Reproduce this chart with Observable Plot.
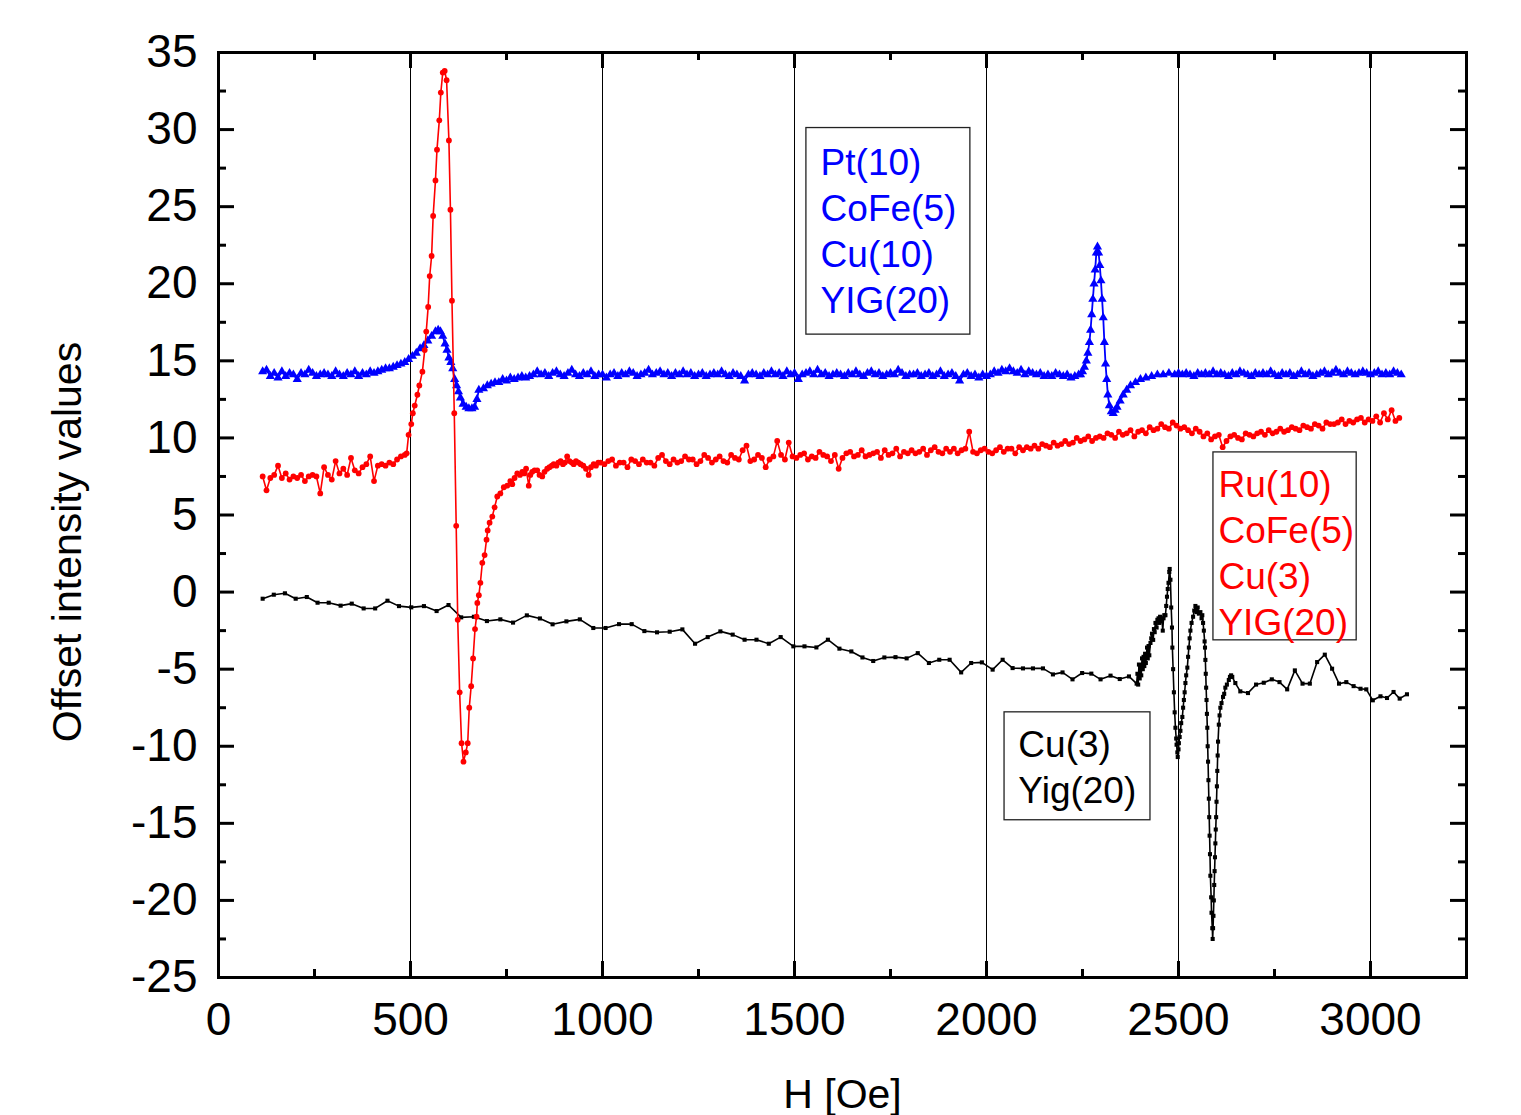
<!DOCTYPE html>
<html>
<head>
<meta charset="utf-8">
<script src="https://cdn.jsdelivr.net/npm/d3@7"></script>
<script src="https://cdn.jsdelivr.net/npm/@observablehq/plot@0.6"></script>
<style>
  html, body { margin: 0; padding: 0; background: white; }
  #chart { width: 1521px; height: 1115px; }
</style>
</head>
<body>
<div id="chart"></div>
<script>
// ---------- DATA ----------
// Blue: Pt(10)/CoFe(5)/Cu(10)/YIG(20), sweep values on a 10 Oe grid
const blueSweep1Start = 115; // H = 115 ... 405
const blueSweep1 = [14.3,14.4,14.0,14.2,13.9,14.3,14.0,14.2,14.1,13.8,14.2,14.1,14.4,14.2,14.0,14.1,14.2,14.1,14.0,14.3,14.1,14.0,14.2,14.1,14.3,14.0,14.2,14.1,14.3,14.2];
const bluePeak1 = [[415,14.3],[425,14.4],[435,14.5],[445,14.5],[455,14.6],[465,14.7],[475,14.8],[485,14.9],[495,15.1],[505,15.3],[515,15.5],[525,15.8],[535,16.0],[545,16.3],[555,16.6],[565,16.9],[572,17.0],[578,16.9],[584,16.6],[590,16.1],[595,15.7],[600,15.2],[605,14.9],[610,14.5],[615,13.8],[620,13.4],[625,13.0],[630,12.6],[637,12.2],[645,12.0],[652,11.9],[660,11.9],[667,12.0],[673,12.5],[678,13.1],[690,13.2],[700,13.4],[710,13.5],[720,13.6],[730,13.6],[740,13.8],[750,13.7],[760,13.9],[770,13.8],[780,13.9],[790,14.0],[800,13.9]];
const blueSweep2Start = 810; // H = 810 ... 2240
const blueSweep2 = [
  14.0,14.1,14.3,14.1,14.2,14.0,14.2,14.3,14.1,14.0,14.2,14.4,14.1,14.0,14.2,14.1,14.3,14.0,14.1,14.1,
  13.9,14.1,14.2,14.0,14.2,14.1,14.3,14.2,14.0,14.1,14.2,14.4,14.1,14.2,14.3,14.1,14.2,14.0,14.2,14.1,
  14.3,14.1,14.2,14.0,14.1,14.2,14.0,14.1,14.2,14.1,14.3,14.1,14.0,14.2,14.1,14.0,13.7,14.1,14.2,14.1,
  14.0,14.2,14.1,14.3,14.1,14.2,14.0,14.3,14.1,14.2,13.8,14.1,14.2,14.3,14.1,14.4,14.1,14.2,14.0,14.1,
  14.2,14.1,14.0,14.2,14.1,14.3,14.1,14.0,14.2,14.3,14.1,14.2,14.0,14.1,14.2,14.1,14.4,14.2,14.0,14.1,
  14.1,14.2,14.0,14.1,14.2,14.0,14.1,14.3,14.0,14.1,14.2,14.0,13.7,14.1,14.2,14.0,14.1,13.9,14.1,14.0,
  14.1,14.3,14.2,14.4,14.3,14.5,14.3,14.2,14.4,14.1,14.3,14.2,14.1,14.2,14.0,14.1,14.0,14.2,14.1,14.0,
  14.1,13.9,14.0,14.1];
const bluePeak2 = [[2245,14.1],[2250,14.3],[2255,14.6],[2260,15.0],[2264,15.5],[2268,16.2],[2271,17.0],[2274,18.0],[2277,19.0],[2280,20.0],[2283,20.9],[2286,22.0],[2289,22.4],[2292,22.0],[2295,21.2],[2298,20.2],[2301,19.0],[2304,17.8],[2307,16.2],[2310,14.8],[2313,13.8],[2316,12.8],[2320,12.1],[2325,11.7],[2330,11.6],[2335,11.8],[2340,12.0],[2348,12.4],[2356,12.8],[2365,13.1],[2375,13.4],[2388,13.6],[2401,13.8],[2415,13.9],[2430,14.0],[2445,14.1],[2460,14.1],[2475,14.2],[2490,14.1],[2500,14.2]];
const blueSweep3Start = 2510; // H = 2510 ... 3080
const blueSweep3 = [
  14.1,14.2,14.1,14.0,14.2,14.1,14.2,14.1,14.3,14.1,
  14.2,14.1,14.0,14.2,14.1,14.3,14.2,14.1,14.0,14.2,
  14.1,14.2,14.1,14.3,14.1,14.0,14.2,14.1,14.2,14.0,
  14.1,14.3,14.1,14.2,14.0,14.1,14.2,14.3,14.1,14.2,
  14.4,14.2,14.1,14.3,14.2,14.1,14.2,14.3,14.2,14.1,
  14.2,14.3,14.1,14.2,14.1,14.3,14.2,14.1];

// Red: Ru(10)/CoFe(5)/Cu(3)/YIG(20)
const redSweep1Start = 115; // H = 115 ... 485
const redSweep1 = [7.5,6.6,7.4,7.6,8.2,7.4,7.7,7.3,7.5,7.4,7.6,7.2,7.5,7.6,7.5,6.4,8.1,7.6,7.3,8.5,7.7,8.0,7.6,8.7,7.9,7.7,8.1,8.3,8.8,7.2,8.2,8.3,8.2,8.4,8.3,8.6,8.8,8.9];
const redPeak = [[490,9.0],[495,10.2],[502,10.9],[506,11.6],[511,12.1],[518,12.8],[523,13.4],[531,14.3],[537,15.7],[541,16.9],[546,18.5],[550,20.5],[555,21.8],[559,24.4],[565,26.7],[569,28.7],[575,30.6],[579,32.4],[584,33.7],[589,33.8],[594,33.2],[600,29.3],[604,24.8],[608,18.9],[614,11.6],[619,4.3],[623,-1.8],[628,-6.5],[633,-9.8],[638,-11.0],[644,-10.4],[649,-9.8],[653,-7.5],[658,-6.1],[663,-4.3],[668,-2.4],[672,-1.6],[674,-0.7],[678,-0.2],[682,0.6],[687,1.9],[693,2.4],[698,3.4],[701,4.0],[706,4.5],[713,4.9],[719,5.5],[726,6.2],[734,6.4],[743,6.8],[752,6.9],[760,7.2],[765,7.0],[771,7.4],[778,7.7],[785,7.6],[791,7.8],[796,7.7],[801,8.0],[808,6.9],[812,7.6],[817,7.8],[823,7.9],[830,7.9],[836,7.6],[843,7.5],[849,7.8],[856,8.0],[862,8.1],[868,8.2],[873,8.3],[880,8.2],[885,8.4],[891,8.5],[897,8.3],[902,8.4],[908,8.8],[914,8.5],[920,8.4],[925,8.3],[931,8.5],[937,8.4],[943,8.3],[950,8.2],[957,8.0],[964,7.6],[970,8.1],[977,8.3],[983,8.2],[989,8.4],[995,8.4]];
const redSweep2Start = 1005; // H = 1005 ... 3075
const redSweep2 = [
  8.3,8.5,8.6,8.2,8.4,8.4,8.1,8.6,8.5,8.3,
  8.6,8.4,8.4,8.2,8.7,8.9,8.5,8.3,8.6,8.4,
  8.5,8.8,8.6,8.6,8.3,8.5,8.9,8.7,8.4,8.6,
  8.8,8.5,8.4,8.9,8.7,8.6,9.2,9.5,8.5,8.6,
  8.9,8.7,8.1,8.6,8.8,9.8,8.9,8.6,9.7,8.8,
  8.7,8.9,9.0,8.6,8.8,8.7,9.1,8.9,8.8,8.5,
  8.9,8.0,8.7,9.0,9.1,8.8,8.9,9.2,8.8,8.9,
  9.0,9.1,8.7,9.2,8.9,9.0,9.3,8.8,9.1,9.0,
  9.2,9.0,9.1,9.3,8.9,9.2,9.4,9.1,9.0,9.3,
  9.1,9.3,9.0,9.2,9.3,10.4,9.1,9.0,9.2,9.3,
  9.1,9.0,9.2,9.4,9.1,9.3,9.3,9.0,9.4,9.2,
  9.4,9.3,9.5,9.3,9.6,9.5,9.4,9.7,9.5,9.6,
  9.8,9.6,9.7,10.0,9.8,9.9,10.1,9.8,10.0,10.1,
  10.0,10.3,10.2,10.0,10.4,10.2,10.3,10.5,10.1,10.4,
  10.5,10.3,10.7,10.5,10.6,10.9,10.7,10.6,11.0,10.8,
  10.6,10.7,10.5,10.3,10.6,10.4,10.1,10.3,9.9,10.1,
  10.2,9.4,9.8,10.1,10.2,10.0,9.9,10.3,10.2,10.1,
  10.3,10.4,10.2,10.5,10.3,10.4,10.6,10.4,10.5,10.7,
  10.6,10.5,10.8,10.7,10.6,10.9,10.8,10.6,11.0,10.9,
  10.9,11.0,11.2,10.9,11.1,11.0,11.2,11.3,11.0,11.2,
  11.1,11.4,11.0,11.6,11.2,11.8,11.1,11.3];

// Black: Cu(3)/Yig(20)
const blackBase = [[115,-0.43],[144,-0.17],[173,-0.08],[201,-0.43],[230,-0.32],[258,-0.69],[287,-0.69],[318,-0.88],[347,-0.75],[378,-1.06],[408,-1.06],[440,-0.56],[470,-0.91],[502,-0.99],[535,-0.91],[568,-1.23],[599,-0.84],[632,-1.64],[665,-1.6],[699,-1.88],[734,-1.77],[767,-1.98],[803,-1.51],[837,-1.71],[870,-2.09],[906,-1.9],[941,-1.77],[976,-2.33],[1008,-2.33],[1043,-2.08],[1076,-2.08],[1109,-2.53],[1142,-2.61],[1175,-2.57],[1208,-2.42],[1241,-3.35],[1274,-2.92],[1307,-2.55],[1339,-2.76],[1370,-3.09],[1401,-3.09],[1433,-3.35],[1464,-2.92],[1497,-3.52],[1526,-3.52],[1557,-3.59],[1587,-3.09],[1617,-3.67],[1648,-3.85],[1677,-4.24],[1705,-4.47],[1734,-4.24],[1763,-4.22],[1792,-4.3],[1821,-3.96],[1850,-4.6],[1877,-4.39],[1904,-4.39],[1934,-5.21],[1960,-4.6],[1988,-4.56],[2016,-5.03],[2042,-4.39],[2068,-4.93],[2095,-4.95],[2121,-4.95],[2147,-4.95],[2173,-5.34],[2198,-5.21],[2224,-5.66],[2249,-5.25],[2273,-5.29],[2297,-5.66],[2323,-5.42],[2347,-5.64],[2371,-5.47],[2391,-5.94]];
const blackResonance = [[2393,-5.3],[2395,-6.0],[2397,-4.7],[2399,-5.6],[2401,-4.9],[2403,-5.4],[2405,-4.3],[2407,-5.0],[2409,-4.2],[2411,-4.8],[2413,-4.0],[2415,-4.6],[2418,-3.6],[2420,-4.3],[2422,-3.5],[2424,-4.1],[2427,-3.3],[2429,-3.0],[2431,-2.7],[2434,-3.1],[2436,-2.4],[2438,-2.6],[2440,-2.0],[2443,-2.3],[2445,-1.8],[2448,-1.7],[2450,-2.0],[2452,-1.6],[2455,-1.9],[2457,-1.8],[2459,-2.5],[2461,-1.7],[2463,-1.5],[2466,-1.5],[2468,-0.9],[2470,-0.3],[2472,0.2],[2474,0.6],[2476,1.3],[2477,1.5],[2479,0.8],[2481,-1.0],[2483,-2.3],[2484,-3.6],[2486,-5.0],[2488,-6.5],[2490,-7.8],[2492,-8.8],[2494,-9.5],[2495,-9.9],[2497,-10.4],[2498,-10.7],[2500,-10.2],[2501,-9.8],[2503,-9.4],[2505,-9.0],[2507,-8.5],[2510,-8.1],[2512,-7.5],[2514,-7.0],[2516,-6.5],[2518,-5.9],[2520,-5.4],[2523,-4.9],[2525,-4.2],[2527,-3.6],[2529,-3.0],[2531,-2.5],[2534,-2.0],[2538,-1.6],[2541,-1.2],[2544,-0.9],[2547,-1.3],[2550,-1.0],[2553,-1.4],[2557,-1.3],[2560,-1.7],[2562,-1.5],[2564,-2.0],[2566,-2.5],[2568,-3.2],[2569,-3.6],[2570,-4.4],[2571,-5.3],[2572,-6.2],[2573,-7.0],[2574,-7.9],[2575,-8.8],[2576,-10.0],[2577,-11.0],[2578,-12.2],[2579,-13.4],[2580,-14.6],[2581,-15.8],[2582,-17.0],[2583,-18.4],[2585,-19.8],[2586,-20.8],[2588,-21.8],[2589,-22.5],[2590,-21.8],[2591,-21.0],[2592,-20.0],[2593,-19.0],[2594,-18.1],[2595,-17.2],[2596,-16.3],[2597,-15.4],[2598,-14.6],[2599,-13.6],[2600,-12.6],[2601,-11.6],[2602,-10.6],[2603,-9.7],[2605,-8.6],[2607,-8.0],[2609,-7.5],[2612,-7.2],[2616,-6.8],[2619,-6.6],[2622,-6.2],[2626,-6.0],[2631,-5.7],[2634,-5.5],[2637,-5.4],[2640,-5.5],[2648,-5.9]];
const blackTail = [[2661,-6.44],[2681,-6.55],[2702,-6.0],[2722,-5.88],[2743,-5.66],[2763,-5.84],[2783,-6.31],[2803,-5.08],[2823,-5.94],[2842,-5.94],[2861,-4.54],[2881,-4.06],[2900,-4.97],[2918,-5.94],[2937,-5.84],[2956,-6.1],[2974,-6.27],[2989,-6.31],[3006,-7.02],[3026,-6.76],[3043,-6.87],[3060,-6.48],[3076,-6.91],[3095,-6.63]];

// Labels
const blueLabel = ["Pt(10)", "CoFe(5)", "Cu(10)", "YIG(20)"];
const redLabel = ["Ru(10)", "CoFe(5)", "Cu(3)", "YIG(20)"];
const blackLabel = ["Cu(3)", "Yig(20)"];
const xTickValues = [0, 500, 1000, 1500, 2000, 2500, 3000];
const yTickValues = [-25, -20, -15, -10, -5, 0, 5, 10, 15, 20, 25, 30, 35];
const gridValues = [500, 1000, 1500, 2000, 2500, 3000];
const xLabel = "H [Oe]";
const yLabel = "Offset intensity values";

// ---------- BUILD ----------
const sweep = (start, vals) => vals.map((v, i) => ({H: start + i * 10, I: v}));
const pts = arr => arr.map(([H, I]) => ({H, I}));

const blue = [...sweep(blueSweep1Start, blueSweep1), ...pts(bluePeak1), ...sweep(blueSweep2Start, blueSweep2), ...pts(bluePeak2), ...sweep(blueSweep3Start, blueSweep3)];
const red = [...sweep(redSweep1Start, redSweep1), ...pts(redPeak), ...sweep(redSweep2Start, redSweep2)];
const black = [...pts(blackBase), ...pts(blackResonance), ...pts(blackTail)];

const W = 1521, H = 1115;
const mL = 218, mR = 55, mT = 52, mB = 138;
const fw = W - mL - mR, fh = H - mT - mB;
const MAJ = 16, MIN = 8;

const xMinor = d3.range(250, 3250, 500);
const yMinor = d3.range(-22.5, 35, 5);

const annotations = [
  {x1: 1531, x2: 1958, y1: 30.1, y2: 16.7, tx: 1568, ty: 23.55, lines: blueLabel, color: "#0000ff"},
  {x1: 2591, x2: 2964, y1: 9.06, y2: -3.13, tx: 2604, ty: 2.65, lines: redLabel, color: "#ff0000"},
  {x1: 2047, x2: 2427, y1: -7.8, y2: -14.8, tx: 2083, ty: -11.25, lines: blackLabel, color: "#000000"}
];

const font = "'Liberation Sans', Arial, Helvetica, sans-serif";

const chart = Plot.plot({
  width: W, height: H,
  marginLeft: mL, marginRight: mR, marginTop: mT, marginBottom: mB,
  x: {domain: [0, 3250]},
  y: {domain: [-25, 35]},
  style: {fontFamily: font, background: "white", color: "black", overflow: "visible"},
  marks: [
    // grid
    Plot.ruleX(gridValues, {stroke: "black", strokeWidth: 1}),
    // axis tick labels
    Plot.axisX({ticks: xTickValues, tickSize: 0, tickPadding: 25, fontSize: 46, tickFormat: d => String(d), label: null}),
    Plot.axisY({ticks: yTickValues, tickSize: 0, tickPadding: 21, fontSize: 46, tickFormat: d => String(d), label: null}),
    // inward ticks: bottom & top
    Plot.ruleX(xTickValues, {insetTop: fh - MAJ, stroke: "black", strokeWidth: 3}),
    Plot.ruleX(xTickValues, {insetBottom: fh - MAJ, stroke: "black", strokeWidth: 3}),
    Plot.ruleX(xMinor, {insetTop: fh - MIN, stroke: "black", strokeWidth: 3}),
    Plot.ruleX(xMinor, {insetBottom: fh - MIN, stroke: "black", strokeWidth: 3}),
    // inward ticks: left & right
    Plot.ruleY(yTickValues, {insetRight: fw - MAJ, stroke: "black", strokeWidth: 3}),
    Plot.ruleY(yTickValues, {insetLeft: fw - MAJ, stroke: "black", strokeWidth: 3}),
    Plot.ruleY(yMinor, {insetRight: fw - MIN, stroke: "black", strokeWidth: 3}),
    Plot.ruleY(yMinor, {insetLeft: fw - MIN, stroke: "black", strokeWidth: 3}),
    // annotation boxes
    Plot.rect(annotations, {x1: "x1", x2: "x2", y1: "y1", y2: "y2", fill: "white", stroke: "#222", strokeWidth: 1.3}),
    // data: black
    Plot.line(black, {x: "H", y: "I", stroke: "black", strokeWidth: 1.6}),
    Plot.dot(black, {x: "H", y: "I", symbol: "square", r: 2.3, fill: "black", stroke: "none"}),
    // blue
    Plot.line(blue, {x: "H", y: "I", stroke: "#0000ff", strokeWidth: 1.8}),
    Plot.dot(blue, {x: "H", y: "I", symbol: "triangle", r: 3.4, fill: "#0000ff", stroke: "none"}),
    // red
    Plot.line(red, {x: "H", y: "I", stroke: "#ff0000", strokeWidth: 1.6}),
    Plot.dot(red, {x: "H", y: "I", r: 2.9, fill: "#ff0000", stroke: "none"}),
    // annotation text
    Plot.text(annotations, {x: "tx", y: "ty", text: d => d.lines.join("\n"), fill: d => d.color, textAnchor: "start", lineAnchor: "middle", fontSize: 37, lineHeight: 1.24}),
    // frame
    Plot.frame({stroke: "black", strokeWidth: 3}),
    // axis titles
    Plot.text([xLabel], {frameAnchor: "bottom", text: d => d, textAnchor: "middle", lineAnchor: "middle", dy: 117, fontSize: 41, fill: "black"}),
    Plot.text([yLabel], {frameAnchor: "left", text: d => d, textAnchor: "middle", lineAnchor: "middle", rotate: -90, dx: -151, dy: 27, fontSize: 41, fill: "black"})
  ]
});

document.getElementById("chart").appendChild(chart);
</script>
</body>
</html>
